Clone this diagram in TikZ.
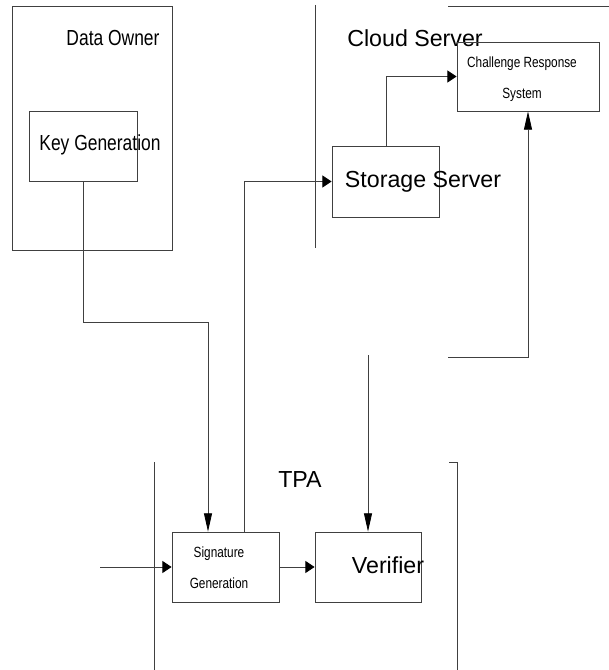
\documentclass[tikz,border=0pt]{standalone}
\usepackage{fontspec}
\setmainfont{Liberation Sans}
\newfontfamily\narrowfont[FakeStretch=0.8]{Liberation Sans}
\usetikzlibrary{arrows.meta}

\begin{document}
\begin{tikzpicture}[x=0.025cm, y=-0.025cm,
    block/.style={rectangle, draw=black!75, line width=0.6pt, inner sep=0pt},
    line/.style={draw=black!75, line width=0.6pt},
    hline/.style={line, -{Triangle[length=6.5pt, width=8.5pt, color=black]}},
    vline/.style={line, -{Triangle[length=13pt, width=5.7pt, color=black]}},
    title/.style={font=\fontsize{16.5}{20}\selectfont, inner sep=0pt},
    tall/.style={font=\narrowfont\fontsize{15.5}{18}\selectfont, inner sep=0pt},
    small/.style={font=\narrowfont\fontsize{10.5}{22}\selectfont, align=center, inner sep=0pt}]

    \useasboundingbox (0,0) rectangle (609,670);

    % Nodes
    \node [block, minimum width=4cm, minimum height=6.1cm] (owner) at (92,128) {};
    \node [tall] at (113,38) {Data Owner};
    \node [block, minimum width=2.7cm, minimum height=1.75cm] (keygen) at (83,146) {};
    \node [tall] at (100,145) {Key Generation};

    \node [title] at (415,38) {Cloud Server};
    \node [block, minimum width=3.55cm, minimum height=1.725cm] (crs) at (528,76.5) {};
    \node [small] at (522,79.5) {Challenge Response\\System};
    \node [block, minimum width=2.675cm, minimum height=1.775cm] (storage) at (385.5,181.5) {};
    \node [title] at (423,182) {Storage Server};

    \node [title] at (300,480) {TPA};
    \node [block, minimum width=2.675cm, minimum height=1.75cm] (sign) at (225.5,567) {};
    \node [small] at (219,568) {Signature\\Generation};
    \node [block, minimum width=2.65cm, minimum height=1.75cm] (verifier) at (368,567) {};
    \node [title] at (388,565) {Verifier};

    \coordinate (challenge) at (448,357);
    \coordinate (query) at (368,355);
    \coordinate (input) at (100,567);

    % Borders
    \path [line] (315,5) -- (315,248);
    \path [line] (448,6) -- (609,6);
    \path [line] (154,462) -- (154,670);
    \path [line] (449,462) -- (457,462) -- (457,670);

    % Paths
    \path [vline] (keygen.south) -- (83,322) -| ([shift={(-17.5,0)}]sign.north);
    \path [hline] ([shift={(18.5,0)}]sign.north) |- (storage.west);
    \path [hline] ([shift={(0.5,0)}]storage.north) |- (crs.west);
    \path [vline] (challenge) -| (crs.south);
    \path [vline] (query) -- (verifier.north);
    \path [hline] (input) -- (sign.west);
    \path [hline] (sign.east) -- (verifier.west);

\end{tikzpicture}
\end{document}
